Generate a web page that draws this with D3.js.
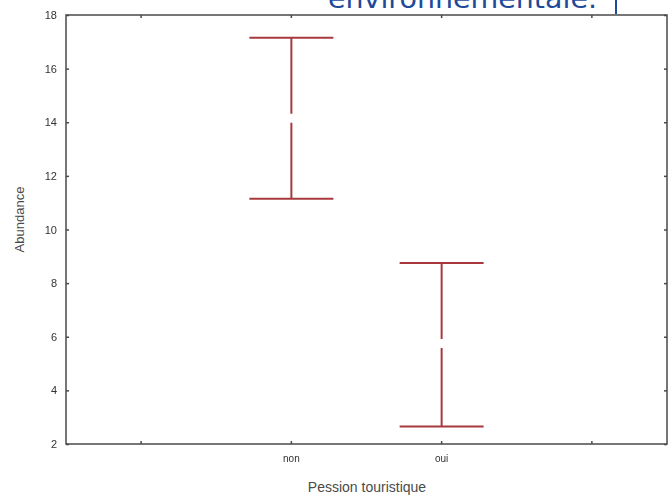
<!DOCTYPE html>
<html>
<head>
<meta charset="utf-8">
<script src="https://cdn.jsdelivr.net/npm/d3@7"></script>
<style>
  body { margin: 0; background: #fff; }
  svg { display: block; }
</style>
</head>
<body>
<div id="chart"></div>
<script>
// groups along x (outer slots carry no label)
const slots = ["s0", "non", "oui", "s3"];
const slotLabels = ["", "non", "oui", ""];
const groups = ["non", "oui"];
const means = [14.15, 5.75];
const upper = [17.15, 8.75];
const lower = [11.15, 2.65];
const yTicks = [2, 4, 6, 8, 10, 12, 14, 16, 18];

const W = 668, H = 500;
const margin = { top: 15, right: 1, bottom: 56, left: 66 };
const width = W - margin.left - margin.right,
    height = H - margin.top - margin.bottom;

const axisColor = "#4a4a4a";
const barColor = "#a8383c";

const svgRoot = d3.select("#chart")
    .append("svg")
    .attr("width", W)
    .attr("height", H);

const defs = svgRoot.append("defs");
defs.append("filter")
    .attr("id", "soft")
    .append("feGaussianBlur")
    .attr("stdDeviation", 0.45);

const svg = svgRoot.append("g")
    .attr("transform", `translate(${margin.left},${margin.top})`)
    .attr("filter", "url(#soft)");

const x = d3.scaleBand()
    .domain(slots)
    .range([0, width]);

const y = d3.scaleLinear()
    .domain([2, 18])
    .range([height, 0]);

// frame
svg.append("rect")
    .attr("width", width)
    .attr("height", height)
    .attr("fill", "none")
    .attr("stroke", axisColor)
    .attr("stroke-width", 1.5);

// left axis with inward ticks
const yAxis = svg.append("g")
    .call(d3.axisLeft(y).tickValues(yTicks).tickSize(-3).tickPadding(9).tickFormat(d3.format("d")));
yAxis.select(".domain").remove();
yAxis.selectAll("line").attr("stroke", axisColor).attr("stroke-width", 1.5);
yAxis.selectAll("text")
    .attr("fill", "#333")
    .style("font-family", "Liberation Sans, Arial, sans-serif")
    .style("font-size", "11px");

// right axis ticks only
const yAxisR = svg.append("g")
    .attr("transform", `translate(${width},0)`)
    .call(d3.axisRight(y).tickValues(yTicks).tickSize(-3).tickFormat(""));
yAxisR.select(".domain").remove();
yAxisR.selectAll("line").attr("stroke", axisColor).attr("stroke-width", 1.5);

// bottom axis
const xAxis = svg.append("g")
    .attr("transform", `translate(0,${height})`)
    .call(d3.axisBottom(x).tickSize(-3).tickPadding(11).tickFormat((d, i) => slotLabels[i]));
xAxis.select(".domain").remove();
xAxis.selectAll("line").attr("stroke", axisColor).attr("stroke-width", 1.5);
xAxis.selectAll("text")
    .attr("fill", "#333")
    .style("font-family", "Liberation Sans, Arial, sans-serif")
    .style("font-size", "10px");

// top axis ticks only
const xAxisT = svg.append("g")
    .call(d3.axisTop(x).tickSize(-3).tickFormat(""));
xAxisT.select(".domain").remove();
xAxisT.selectAll("line").attr("stroke", axisColor).attr("stroke-width", 1.5);

// whiskers
const cx = g => x(g) + x.bandwidth() / 2;
const capHalf = 42;

const bars = svg.selectAll(".whisker")
    .data(groups)
    .enter()
    .append("g")
    .attr("class", "whisker")
    .attr("stroke", barColor)
    .attr("stroke-width", 2);

bars.append("line")
    .attr("x1", d => cx(d))
    .attr("x2", d => cx(d))
    .attr("y1", (d, i) => y(upper[i]))
    .attr("y2", (d, i) => y(lower[i]));

bars.append("line")
    .attr("x1", d => cx(d) - capHalf)
    .attr("x2", d => cx(d) + capHalf)
    .attr("y1", (d, i) => y(upper[i]))
    .attr("y2", (d, i) => y(upper[i]));

bars.append("line")
    .attr("x1", d => cx(d) - capHalf)
    .attr("x2", d => cx(d) + capHalf)
    .attr("y1", (d, i) => y(lower[i]))
    .attr("y2", (d, i) => y(lower[i]));

// mean marker: white gap in the whisker
bars.append("rect")
    .attr("x", d => cx(d) - 3)
    .attr("y", (d, i) => y(means[i]) - 4.5)
    .attr("width", 6)
    .attr("height", 9)
    .attr("fill", "#fff")
    .attr("stroke", "none");

// axis titles
svgRoot.append("text")
    .attr("transform", `translate(24,${margin.top + height / 2 - 10}) rotate(-90)`)
    .attr("text-anchor", "middle")
    .attr("fill", "#4a4a4a")
    .style("font-family", "Liberation Sans, Arial, sans-serif")
    .style("font-size", "13px")
    .text("Abundance");

svgRoot.append("text")
    .attr("x", 367)
    .attr("y", 492)
    .attr("text-anchor", "middle")
    .attr("fill", "#4a4a4a")
    .style("font-family", "Liberation Sans, Arial, sans-serif")
    .style("font-size", "14px")
    .text("Pession touristique");

// banner text running off the top edge, as in the source
const banner = svgRoot.append("g");
banner.append("text")
    .attr("x", 328)
    .attr("y", 8)
    .attr("textLength", 269)
    .attr("lengthAdjust", "spacingAndGlyphs")
    .attr("fill", "#1f4a9a")
    .style("font-family", "DejaVu Sans, sans-serif")
    .style("font-size", "27px")
    .text("environnementale.");
banner.append("line")
    .attr("x1", 616).attr("x2", 616)
    .attr("y1", 0).attr("y2", 14)
    .attr("stroke", "#1f4a9a")
    .attr("stroke-width", 2);
</script>
</body>
</html>
